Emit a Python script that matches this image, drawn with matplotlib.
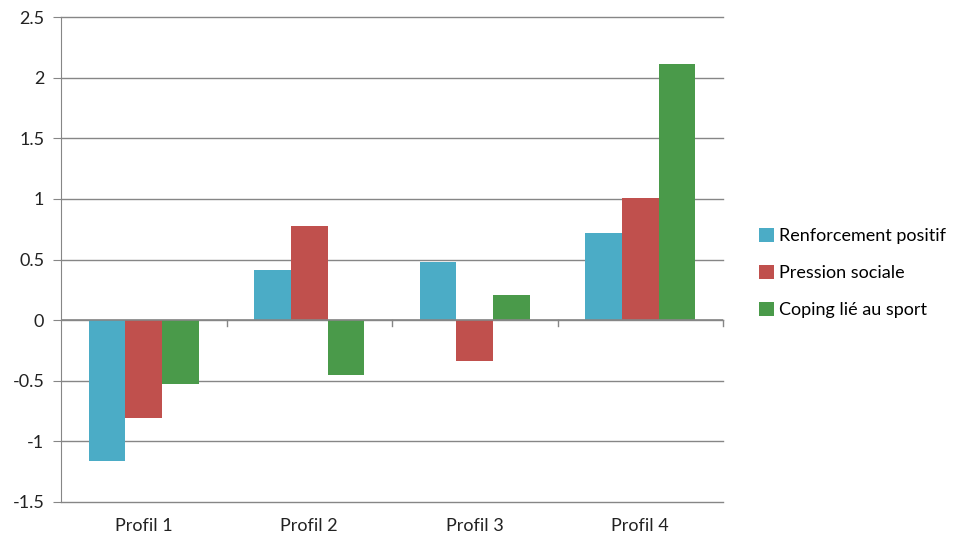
import matplotlib.pyplot as plt
import numpy as np

categories = ['Profil 1', 'Profil 2', 'Profil 3', 'Profil 4']
renforcement = [-1.16, 0.41, 0.48, 0.72]
pression = [-0.81, 0.78, -0.34, 1.01]
coping = [-0.53, -0.45, 0.21, 2.11]
series_names = ['Renforcement positif', 'Pression sociale', 'Coping lié au sport']
colors = ['#4BACC6', '#C0504D', '#4A9A4A']
yticks = [-1.5, -1, -0.5, 0, 0.5, 1, 1.5, 2, 2.5]
ytick_labels = ['-1.5', '-1', '-0.5', '0', '0.5', '1', '1.5', '2', '2.5']

plt.rcParams['font.family'] = ['Lato', 'DejaVu Sans']

fig = plt.figure(figsize=(9.54, 5.40), dpi=100)
ax = fig.add_axes([61 / 954, 1 - 502 / 540, (723 - 61) / 954, (502 - 17) / 540])

x = np.arange(len(categories))
width = 0.222
for i, (vals, name, c) in enumerate(zip([renforcement, pression, coping], series_names, colors)):
    ax.bar(x + (i - 1) * width, vals, width, color=c, label=name, zorder=3)

gridc = '#868686'
ax.set_ylim(-1.5, 2.5)
ax.set_xlim(-0.5, 3.5)
ax.set_yticks(yticks)
ax.set_yticklabels(ytick_labels)
for t in yticks:
    ax.axhline(t, color=gridc, linewidth=1, zorder=0, clip_on=False)
ax.axhline(0, color=gridc, linewidth=1.2, zorder=4)
for s in ['top', 'right', 'bottom']:
    ax.spines[s].set_visible(False)
ax.spines['left'].set_color(gridc)
ax.tick_params(axis='y', length=6, color=gridc, labelsize=13, labelcolor='#222222', pad=6)

# category labels at bottom, boundary tick marks on zero line
ax.set_xticks([])
for i, lab in enumerate(categories):
    ax.text(i, -1.5 - 0.2, lab, ha='center', va='center', fontsize=13, color='#222222')
for b in [0.5, 1.5, 2.5, 3.5]:
    ax.plot([b, b], [0, -0.05], color=gridc, linewidth=1, clip_on=False, zorder=4)

fig.legend(loc='center left', bbox_to_anchor=(752 / 954, 1 - 273 / 540), frameon=False,
           fontsize=13, handlelength=0.8, handleheight=0.8, handletextpad=0.3,
           labelspacing=1.15, borderaxespad=0)

fig.savefig('out.png', dpi=100, facecolor='white')
